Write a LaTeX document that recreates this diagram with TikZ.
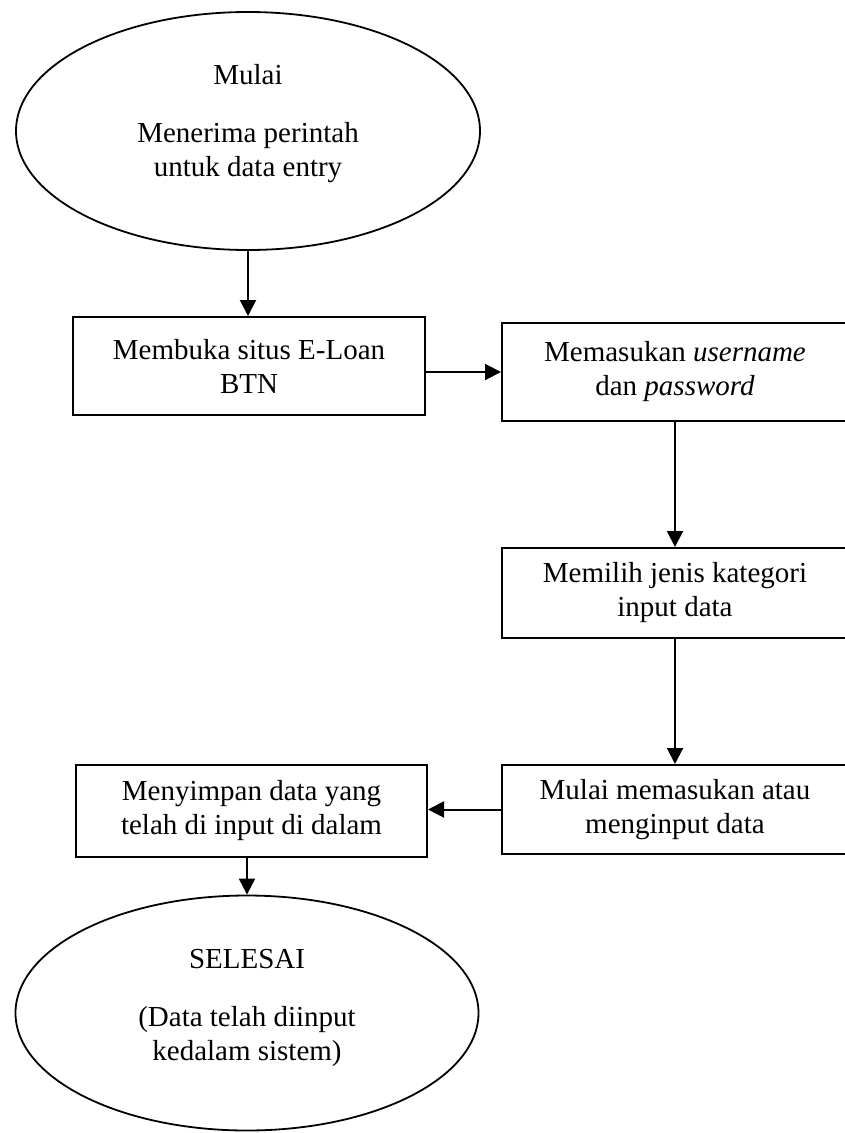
\documentclass[tikz,border=0pt]{standalone}
\usepackage{fontspec}
\setmainfont{Liberation Serif}
\usetikzlibrary{arrows.meta,shapes.geometric}
\begin{document}
\begin{tikzpicture}[x=1pt,y=-1pt,
  every node/.style={font=\fontsize{29}{34}\selectfont, align=center, inner sep=0pt},
  procbox/.style={draw, line width=2pt, rectangle},
  oval/.style={draw, line width=1.8pt, ellipse},
  arr/.style={line width=2pt, -{Triangle[length=16pt,width=16pt]}}
]
\useasboundingbox (0,0) rectangle (845,1133);

\node[oval, minimum width=464pt, minimum height=238pt] (start) at (248,131) {};
\node (starttxt) at (248,124) {Mulai\\[24pt]Menerima perintah\\untuk data entry};

\node[procbox, minimum width=352pt, minimum height=98pt] (b1) at (249,366)
  {Membuka situs E-Loan\\BTN};
\node[procbox, minimum width=346pt, minimum height=98pt] (b2) at (675,372)
  {Memasukan \textit{username}\\dan \textit{password}};
\node[procbox, minimum width=346pt, minimum height=90pt] (b3) at (675,593)
  {Memilih jenis kategori\\input data};
\node[procbox, minimum width=346pt, minimum height=89pt] (b4) at (675,809.5)
  {Mulai memasukan atau\\menginput data};
\node[procbox, minimum width=351pt, minimum height=92pt] (b5) at (251.5,811)
  {Menyimpan data yang\\telah di input di dalam};

\node[oval, minimum width=463pt, minimum height=235pt] (end) at (247,1013) {};
\node (endtxt) at (247,1008) {SELESAI\\[24pt](Data telah diinput\\kedalam sistem)};

\draw[arr] (start.south) -- (start.south |- b1.north);
\draw[arr] (b1.east |- b2.west) -- (b2.west);
\draw[arr] (b2.south) -- (b3.north);
\draw[arr] (b3.south) -- (b4.north);
\draw[arr] (b4.west) -- (b5.east |- b4.west);
\draw[arr] (b5.south -| end.north) -- (end.north);
\end{tikzpicture}
\end{document}
